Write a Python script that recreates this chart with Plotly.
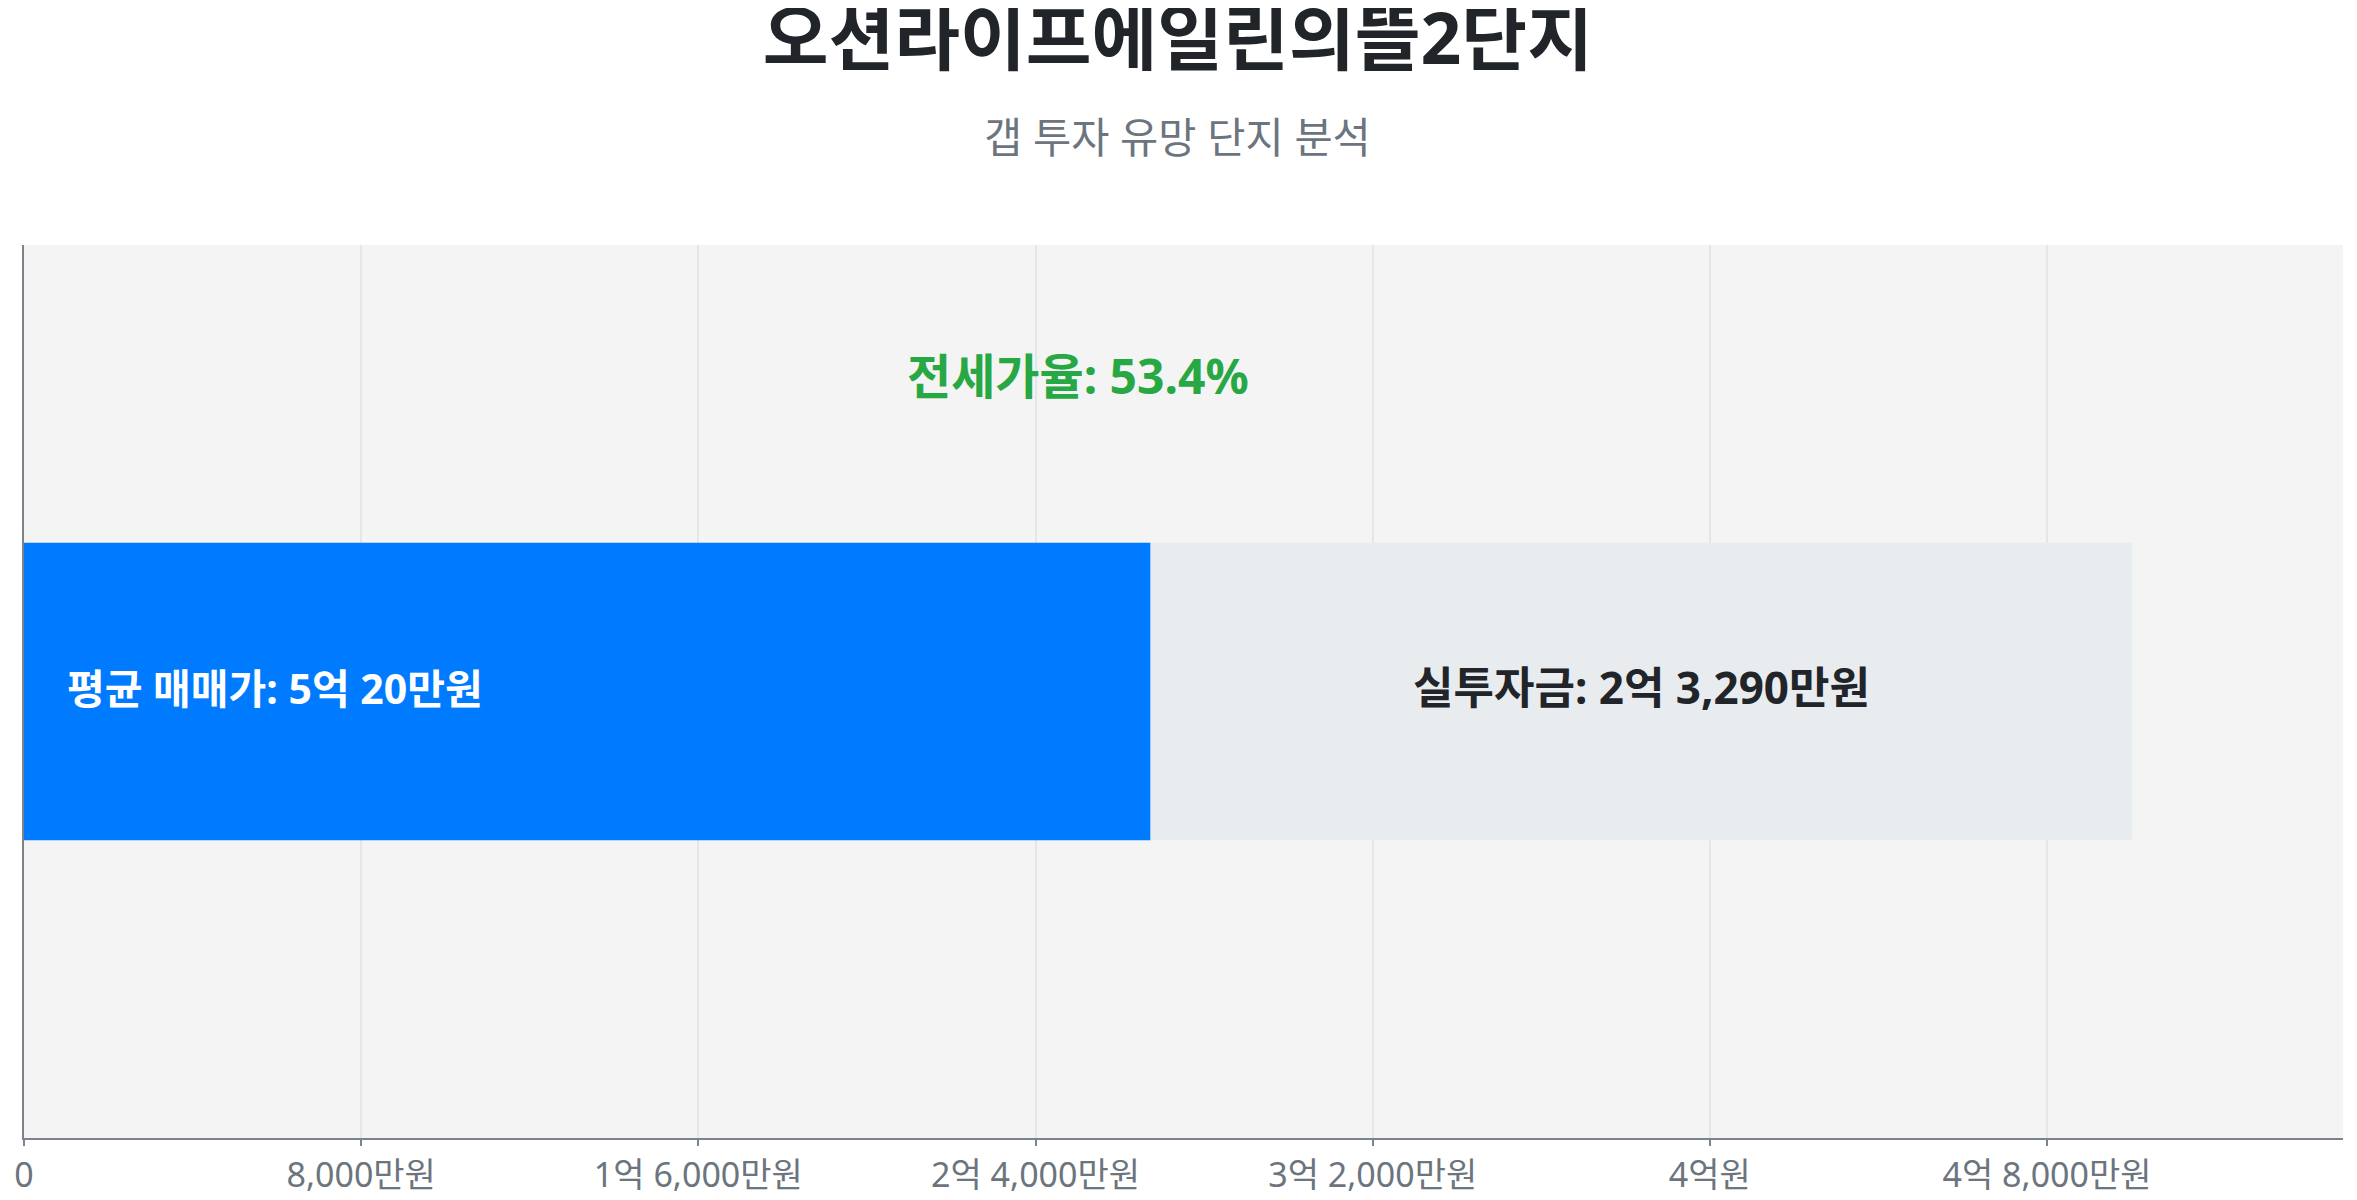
import plotly.graph_objects as go

# ---- data (만원) ----
categories = ["오션라이프에일린의뜰2단지"]
jeonse_values = [26730]      # 전세가 (blue segment)
invest_values = [23290]      # 실투자금 (gray segment)
sale_price = [50020]         # 평균 매매가
jeonse_ratio = [53.4]

title_text = "오션라이프에일린의뜰2단지"
subtitle_text = "갭 투자 유망 단지 분석"
sale_label = ["평균 매매가: 5억 20만원"]
invest_label = ["실투자금: 2억 3,290만원"]
ratio_label = ["전세가율: 53.4%"]

tick_values = [0, 8000, 16000, 24000, 32000, 40000, 48000]
tick_labels = ["0", "8,000만원", "1억 6,000만원", "2억 4,000만원",
               "3억 2,000만원", "4억원", "4억 8,000만원"]

FONT = "Noto Sans, Noto Sans CJK KR"

fig = go.Figure()
fig.add_trace(go.Bar(
    y=[0], x=jeonse_values, orientation="h", width=1,
    marker=dict(color="#007bff", line=dict(width=0)),
    hoverinfo="skip", showlegend=False,
))
fig.add_trace(go.Bar(
    y=[0], x=invest_values, base=jeonse_values, orientation="h", width=1,
    marker=dict(color="#e9ecef", line=dict(width=0)),
    hoverinfo="skip", showlegend=False,
))

annotations = [
    dict(x=0, y=0, xref="x", yref="y", text=sale_label[0], showarrow=False,
         xanchor="left", yanchor="middle", xshift=41, yshift=4,
         font=dict(family=FONT, size=41, color="#ffffff", weight="bold")),
    dict(x=jeonse_values[0] + invest_values[0] / 2, y=0, xref="x", yref="y",
         text=invest_label[0], showarrow=False, xanchor="center", yanchor="middle",
         yshift=5,
         font=dict(family=FONT, size=44, color="#212529", weight="bold")),
    dict(x=sale_price[0] / 2, y=0.854, xref="x", yref="paper", text=ratio_label[0],
         showarrow=False, xanchor="center", yanchor="middle",
         font=dict(family=FONT, size=48, color="#28a745", weight="bold")),
    dict(x=0.4976, y=1.121, xref="paper", yref="paper", text=subtitle_text,
         showarrow=False, xanchor="center", yanchor="middle",
         font=dict(family=FONT, size=41.5, color="#6c757d")),
]
fig.update_layout(
    width=2349, height=1192,
    margin=dict(l=16, r=14, t=237, b=62, autoexpand=False),
    paper_bgcolor="#ffffff", plot_bgcolor="#f4f4f4",
    barmode="overlay",
    title=dict(text=title_text, x=0.498, xref="container", xanchor="center",
               y=1 - 31 / 1192, yref="container", yanchor="middle",
               font=dict(family=FONT, size=71.5, color="#212529", weight="bold")),
    annotations=annotations,
    xaxis=dict(range=[0, sale_price[0] * 1.1], tickvals=tick_values, ticktext=tick_labels,
               showgrid=True, gridcolor="#e6e6e6", gridwidth=1.5,
               showline=True, linecolor="#7d838a", linewidth=2,
               ticks="outside", ticklen=6, tickcolor="#7d838a", tickwidth=2,
               tickfont=dict(family=FONT, size=34, color="#6c757d"),
               zeroline=False, automargin=False),
    yaxis=dict(range=[-1.5, 1.5], showticklabels=False, showgrid=False,
               showline=True, linecolor="#7d838a", linewidth=2, zeroline=False,
               automargin=False),
    font=dict(family=FONT),
)
fig.write_html("out.html")
